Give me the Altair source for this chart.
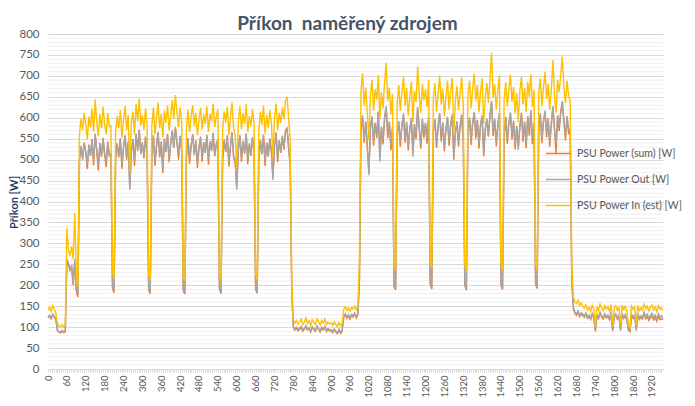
import altair as alt
import pandas as pd

# Sampling step of the readings (seconds)
step = 5

# PSU Power In (est) [W]  (yellow)
psu_in_est = [
    140, 148, 137, 152, 143, 134, 107, 103, 101, 106, 100, 104, 338, 284, 271, 293, 262, 372, 228, 196,
    560, 598, 571, 612, 585, 548, 603, 577, 622, 566, 644, 590, 556, 608, 575, 627, 584, 561, 611, 579,
    580, 232, 214, 566, 604, 575, 618, 552, 596, 628, 570, 607, 470, 588, 615, 560, 633, 592, 646, 581,
    606, 571, 622, 585, 226, 212, 580, 625, 561, 598, 636, 575, 609, 553, 617, 588, 630, 570, 604, 642,
    598, 654, 612, 578, 625, 590, 222, 210, 574, 619, 566, 603, 630, 581, 612, 558, 597, 624, 572, 608,
    585, 627, 566, 610, 592, 634, 578, 603, 620, 230, 211, 571, 615, 588, 626, 559, 601, 637, 575, 560,
    480, 590, 628, 572, 611, 585, 633, 566, 604, 579, 621, 588, 228, 213, 569, 614, 583, 629, 562, 607,
    576, 618, 590, 505, 600, 634, 571, 612, 587, 625, 596, 640, 650, 598, 545, 205, 118, 110, 116, 107,
    113, 119, 106, 112, 122, 109, 115, 104, 118, 111, 107, 120, 113, 105, 116, 110, 119, 106, 112, 108,
    110, 104, 113, 106, 101, 111, 103, 108, 142, 149, 140, 146, 138, 147, 143, 150, 141, 148, 262, 666,
    706, 628, 672, 610, 548, 655, 690, 617, 668, 643, 702, 596, 660, 623, 684, 731, 641, 672, 608, 657,
    245, 236, 634, 678, 617, 662, 698, 629, 671, 605, 649, 686, 590, 664, 637, 722, 655, 612, 680, 642,
    668, 625, 690, 258, 240, 646, 683, 614, 657, 700, 632, 669, 604, 651, 689, 620, 663, 695, 560, 640,
    676, 618, 659, 697, 630, 248, 232, 655, 688, 622, 670, 705, 641, 678, 613, 662, 694, 585, 650, 683,
    636, 690, 755, 648, 679, 620, 665, 701, 250, 236, 643, 685, 627, 668, 703, 638, 674, 611, 659, 590,
    664, 697, 632, 671, 614, 686, 650, 704, 626, 667, 252, 238, 660, 694, 628, 673, 709, 645, 681, 619,
    668, 737, 652, 612, 690, 661, 704, 746, 672, 635, 688, 652, 640, 253, 172, 161, 156, 164, 152, 158,
    150, 145, 153, 141, 148, 138, 152, 144, 103, 149, 140, 155, 146, 139, 151, 143, 148, 137, 154, 102,
    145, 151, 140, 147, 104, 153, 142, 149, 138, 107, 101, 150, 143, 148, 106, 152, 139, 146, 141, 155,
    144, 150, 139, 147, 153, 141, 148, 137, 151, 143, 146, 140,
]

# PSU Power Out [W]  (gray)
psu_out = [
    124, 128, 122, 131, 126, 120, 93, 90, 88, 92, 89, 91, 262, 252, 238, 247, 205, 262, 190, 178,
    500, 530, 505, 538, 520, 489, 534, 512, 546, 498, 560, 522, 486, 537, 510, 550, 515, 495, 540, 512,
    514, 196, 186, 505, 537, 510, 548, 490, 530, 556, 506, 540, 428, 522, 546, 498, 560, 525, 570, 516,
    538, 508, 552, 519, 192, 184, 514, 555, 497, 531, 564, 510, 540, 480, 548, 522, 558, 506, 536, 568,
    531, 575, 543, 513, 554, 523, 190, 183, 509, 549, 502, 535, 558, 515, 543, 494, 530, 552, 507, 539,
    519, 556, 502, 541, 525, 561, 512, 534, 550, 195, 184, 506, 545, 522, 555, 495, 533, 563, 509, 500,
    428, 523, 556, 507, 542, 518, 560, 501, 536, 513, 551, 521, 194, 185, 504, 544, 517, 557, 498, 538,
    511, 548, 524, 451, 532, 562, 506, 543, 520, 554, 528, 567, 572, 530, 490, 180, 102, 96, 100, 94,
    98, 102, 93, 97, 104, 95, 99, 91, 101, 96, 93, 103, 97, 91, 100, 95, 102, 92, 97, 94,
    94, 89, 96, 90, 87, 95, 88, 92, 126, 132, 124, 130, 122, 131, 127, 134, 125, 132, 215, 578,
    606, 550, 588, 538, 463, 575, 604, 545, 585, 563, 612, 495, 579, 548, 598, 628, 562, 588, 533, 574,
    200, 193, 557, 592, 543, 580, 610, 552, 587, 533, 570, 600, 507, 582, 559, 626, 574, 538, 594, 563,
    585, 549, 603, 205, 195, 566, 597, 540, 576, 611, 555, 586, 531, 571, 602, 545, 581, 608, 511, 562,
    592, 543, 578, 608, 553, 203, 192, 574, 601, 546, 587, 614, 562, 592, 538, 580, 606, 520, 570, 598,
    558, 604, 640, 568, 594, 544, 582, 612, 204, 194, 564, 599, 550, 585, 613, 560, 590, 536, 577, 523,
    581, 609, 554, 588, 539, 601, 569, 615, 549, 584, 206, 196, 578, 607, 551, 589, 617, 565, 596, 543,
    584, 628, 572, 540, 603, 580, 612, 640, 590, 558, 601, 575, 565, 215, 148, 136, 131, 139, 128, 134,
    131, 126, 134, 123, 129, 120, 133, 125, 93, 130, 122, 136, 127, 121, 132, 124, 129, 119, 135, 94,
    126, 132, 122, 128, 95, 134, 123, 130, 120, 96, 92, 131, 124, 129, 95, 133, 121, 127, 122, 136,
    125, 131, 121, 128, 133, 122, 129, 119, 132, 124, 127, 122,
]

# PSU Power (sum) [W]  (orange)
psu_sum = [
    122, 127, 120, 129, 124, 118, 91, 88, 86, 90, 87, 89, 258, 249, 236, 244, 200, 258, 186, 172,
    497, 533, 500, 541, 517, 478, 536, 509, 549, 486, 562, 520, 474, 540, 507, 552, 512, 482, 543, 509,
    511, 192, 182, 502, 539, 505, 551, 478, 528, 558, 500, 543, 436, 519, 549, 485, 562, 521, 572, 513,
    541, 503, 555, 516, 188, 180, 510, 558, 485, 534, 566, 505, 543, 468, 550, 518, 561, 494, 538, 570,
    528, 578, 540, 500, 557, 520, 186, 179, 505, 552, 490, 532, 561, 511, 546, 480, 527, 555, 495, 542,
    516, 559, 488, 544, 521, 564, 508, 537, 547, 190, 180, 494, 548, 518, 558, 483, 530, 566, 505, 494,
    438, 520, 559, 495, 545, 514, 563, 489, 539, 509, 554, 517, 189, 181, 492, 547, 513, 560, 485, 541,
    507, 551, 520, 460, 535, 565, 494, 546, 516, 557, 524, 570, 575, 526, 484, 176, 99, 93, 97, 91,
    95, 100, 90, 95, 101, 93, 97, 88, 99, 94, 90, 101, 95, 88, 98, 93, 100, 89, 95, 91,
    91, 86, 94, 88, 84, 93, 85, 90, 123, 130, 121, 128, 119, 129, 124, 132, 122, 130, 210, 572,
    603, 540, 591, 526, 470, 578, 601, 533, 588, 552, 615, 505, 576, 536, 601, 625, 551, 591, 522, 577,
    196, 189, 560, 589, 531, 583, 607, 540, 590, 522, 573, 597, 520, 585, 548, 623, 577, 526, 597, 551,
    588, 538, 600, 201, 191, 569, 594, 528, 579, 608, 543, 589, 520, 574, 599, 533, 584, 605, 500, 565,
    589, 531, 581, 605, 541, 199, 188, 577, 598, 535, 590, 611, 550, 595, 526, 583, 603, 508, 573, 595,
    555, 607, 636, 556, 597, 532, 585, 609, 200, 190, 552, 602, 538, 588, 610, 548, 593, 524, 580, 530,
    578, 612, 542, 591, 527, 604, 557, 618, 537, 587, 202, 192, 575, 610, 539, 592, 614, 553, 599, 531,
    587, 625, 575, 515, 606, 568, 615, 637, 593, 546, 604, 563, 568, 210, 144, 133, 128, 136, 125, 131,
    128, 124, 131, 121, 126, 118, 130, 123, 90, 127, 120, 133, 124, 119, 129, 122, 126, 117, 132, 91,
    123, 130, 119, 125, 92, 131, 121, 127, 117, 93, 89, 128, 121, 126, 92, 130, 118, 124, 119, 133,
    120, 125, 116, 122, 127, 117, 123, 114, 126, 118, 121, 117,
]

series_names = ["PSU Power (sum) [W]", "PSU Power Out [W]", "PSU Power In (est) [W]"]
series_colors = ["#ED7D31", "#A5A5A5", "#FFC000"]

x_max = 1955
x_tick_values = list(range(0, x_max + 1, 6))
y_major = list(range(0, 801, 50))
y_minor = [v for v in range(10, 800, 10) if v % 50]

times = list(range(0, step * len(psu_in_est), step))


def frame(values, name):
    return pd.DataFrame({"t": times, "value": values, "series": name})


FONT = "Lato"

x_enc = alt.X(
    "t:Q",
    scale=alt.Scale(domain=[0, x_max], nice=False, zero=False),
    axis=alt.Axis(
        title=None,
        values=x_tick_values,
        labelExpr="datum.value % 60 == 0 ? datum.label : ''",
        format="d",
        labelAngle=-90,
        labelOverlap=False,
        labelFlush=False,
        labelFont=FONT,
        labelFontSize=9.5,
        labelColor="#595959",
        labelPadding=3,
        tickSize=3,
        tickColor="#d9d9d9",
        domainColor="#d9d9d9",
        grid=False,
    ),
)

y_axis = alt.Axis(
    title="Příkon [W]",
    titleFont=FONT,
    titleFontSize=11,
    titleFontWeight="bold",
    titleColor="#1F3864",
    titleAngle=270,
    titleAlign="center",
    titleBaseline="middle",
    titleX=-34,
    titleY=168,
    values=y_major,
    format="d",
    labelFont=FONT,
    labelFontSize=11.5,
    labelColor="#595959",
    labelPadding=9,
    ticks=False,
    tickSize=0,
    domain=False,
    grid=True,
    gridColor="#d9d9d9",
)

y_scale = alt.Scale(domain=[0, 800], nice=False)

color_scale = alt.Scale(domain=series_names, range=series_colors)
legend = alt.Legend(
    title=None,
    orient="none",
    legendX=497,
    legendY=106,
    symbolType="stroke",
    symbolSize=625,
    symbolStrokeWidth=1.5,
    labelFont=FONT,
    labelFontSize=10.5,
    labelColor="#595959",
    labelOffset=5,
    rowPadding=7,
    padding=0,
)

minor_grid = alt.Chart(pd.DataFrame({"value": y_minor})).mark_rule(
    color="#eeeeee", strokeWidth=1
).encode(y=alt.Y("value:Q", scale=y_scale, axis=y_axis))


def line(values, name):
    return alt.Chart(frame(values, name)).mark_line(strokeWidth=1.4).encode(
        x=x_enc,
        y=alt.Y("value:Q", scale=y_scale, axis=y_axis),
        color=alt.Color("series:N", scale=color_scale, legend=legend),
    )


chart = alt.layer(
    minor_grid,
    line(psu_sum, series_names[0]),
    line(psu_out, series_names[1]),
    line(psu_in_est, series_names[2]),
).properties(
    width=615,
    height=335,
    autosize=alt.AutoSizeParams(type="none"),
    padding={"left": 40, "top": 26, "right": 24, "bottom": 28},
    background="white",
    title=alt.TitleParams(
        text="Příkon\u00a0 naměřený zdrojem",
        font=FONT,
        fontSize=19,
        fontWeight="bold",
        color="#44546A",
        anchor="middle",
        frame="group",
        dx=-8,
        offset=0,
        dy=6,
    ),
).configure_view(strokeWidth=0)

chart.save("out.html", embed_options={"renderer": "svg", "actions": False})
